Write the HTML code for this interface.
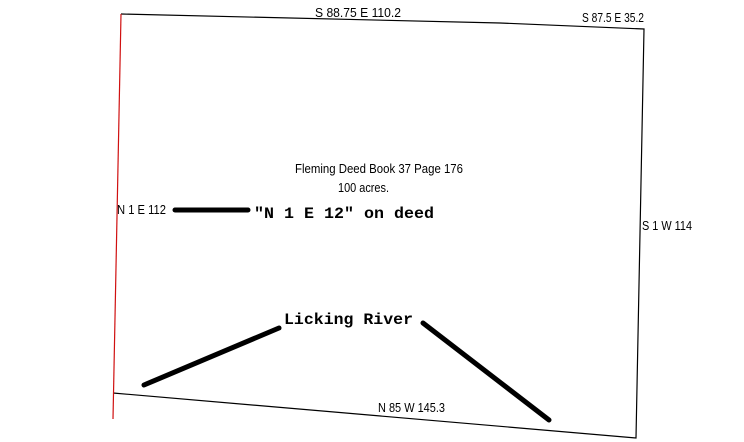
<!DOCTYPE html>
<html><head><meta charset="utf-8"><style>
html,body{margin:0;padding:0;background:#fff;}
svg{display:block;}
.s{font-family:"Liberation Sans",sans-serif;font-size:12.5px;fill:#000;}
.m{font-family:"Liberation Mono","Courier New",monospace;font-weight:bold;font-size:16px;fill:#000;}
</style></head><body>
<svg width="744" height="442" viewBox="0 0 744 442" xmlns="http://www.w3.org/2000/svg">
<rect width="744" height="442" fill="#fff"/>
<!-- boundary -->
<polyline points="121,14 500,23 644,29 636,438 113,393" fill="none" stroke="#000" stroke-width="1.2"/>
<line x1="121" y1="14" x2="113" y2="419" stroke="#d01010" stroke-width="1.2"/>
<!-- thick lines -->
<line x1="175" y1="210" x2="248" y2="210" stroke="#000" stroke-width="5" stroke-linecap="round"/>
<line x1="144" y1="385" x2="279" y2="328" stroke="#000" stroke-width="5" stroke-linecap="round"/>
<line x1="423" y1="323" x2="549" y2="420" stroke="#000" stroke-width="5" stroke-linecap="round"/>
<!-- labels -->
<text class="s" x="315" y="17" textLength="86" lengthAdjust="spacingAndGlyphs">S 88.75 E 110.2</text>
<text class="s" x="582" y="22" textLength="62" lengthAdjust="spacingAndGlyphs">S 87.5 E 35.2</text>
<text class="s" x="295" y="173" textLength="168" lengthAdjust="spacingAndGlyphs">Fleming Deed Book 37 Page 176</text>
<text class="s" x="338" y="192" textLength="51" lengthAdjust="spacingAndGlyphs">100 acres.</text>
<text class="s" x="117" y="214" textLength="49" lengthAdjust="spacingAndGlyphs">N 1 E 112</text>
<text class="m" x="254" y="218" textLength="180" lengthAdjust="spacingAndGlyphs">"N 1 E 12" on deed</text>
<text class="s" x="642" y="230" textLength="50" lengthAdjust="spacingAndGlyphs">S 1 W 114</text>
<text class="m" x="284" y="324" textLength="129" lengthAdjust="spacingAndGlyphs">Licking River</text>
<text class="s" x="378" y="412" textLength="67" lengthAdjust="spacingAndGlyphs">N 85 W 145.3</text>
</svg>
</body></html>
